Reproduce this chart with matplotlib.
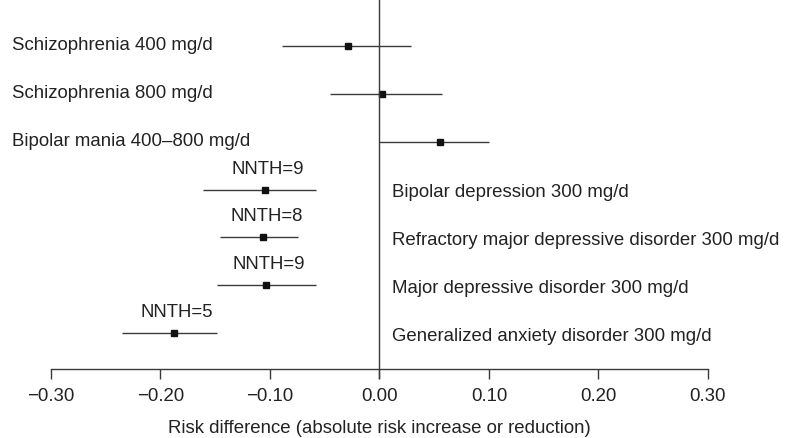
import numpy as np
import matplotlib.pyplot as plt
from matplotlib.ticker import FuncFormatter
from matplotlib.transforms import blended_transform_factory

# rows from top to bottom
labels = ["Schizophrenia 400 mg/d", "Schizophrenia 800 mg/d",
          "Bipolar mania 400\u2013800 mg/d", "Bipolar depression 300 mg/d",
          "Refractory major depressive disorder 300 mg/d",
          "Major depressive disorder 300 mg/d",
          "Generalized anxiety disorder 300 mg/d"]
est = [-0.029, 0.002, 0.055, -0.105, -0.106, -0.104, -0.188]
lo = [-0.089, -0.045, 0.000, -0.161, -0.146, -0.148, -0.235]
hi = [0.029, 0.057, 0.100, -0.058, -0.074, -0.058, -0.148]
nnth = [None, None, None, "NNTH=9", "NNTH=8", "NNTH=9", "NNTH=5"]
xticks = [-0.30, -0.20, -0.10, 0.00, 0.10, 0.20, 0.30]

plt.rcParams['font.family'] = ['Liberation Sans', 'DejaVu Sans']
txt = '#222222'
line = '#3a3a3a'
fs = 13.4

fig = plt.figure(figsize=(7.87, 4.39), dpi=100)
ax = fig.add_axes([0.0648, 0.157, 0.8348, 0.843])
left_tr = blended_transform_factory(fig.transFigure, ax.transData)

n = len(labels)
ys = np.arange(n, 0, -1)

for y, e, l, h, lab, nn in zip(ys, est, lo, hi, labels, nnth):
    ax.plot([l, h], [y, y], color=line, lw=1.0, solid_capstyle='butt')
    ax.plot(e, y, marker='s', ms=4.5, color='#111111', lw=0)
    if h > 0:
        # label on the left side
        ax.text(12 / 787, y + 0.02, lab, ha='left', va='center',
                fontsize=fs, color=txt, transform=left_tr)
    else:
        ax.annotate(lab, (0, y), xytext=(9, -1.5), textcoords='offset points',
                    ha='left', va='center', fontsize=fs, color=txt)
    if nn:
        ax.annotate(nn, (e, y), xytext=(2, 15.5), textcoords='offset points',
                    ha='center', va='center', fontsize=fs, color=txt)

ax.axvline(0, ymin=-0.024, ymax=1, color=line, lw=1.0, clip_on=False)

ax.set_xlim(-0.30, 0.30)
ax.set_ylim(0.25, 7.98)
ax.set_xticks(xticks)
ax.xaxis.set_major_formatter(FuncFormatter(
    lambda v, p: f"{v:.2f}".replace('-', '\u2212') if abs(v) > 1e-9 else "0.00"))
ax.tick_params(axis='x', direction='out', length=7, width=1.0, color=line,
               labelsize=fs, labelcolor=txt, pad=6)
ax.set_yticks([])
for s in ['top', 'left', 'right']:
    ax.spines[s].set_visible(False)
ax.spines['bottom'].set_color(line)
ax.spines['bottom'].set_linewidth(1.0)
ax.set_xlabel("Risk difference (absolute risk increase or reduction)",
              fontsize=fs, color=txt, labelpad=11)

fig.savefig('out.png', dpi=100)
